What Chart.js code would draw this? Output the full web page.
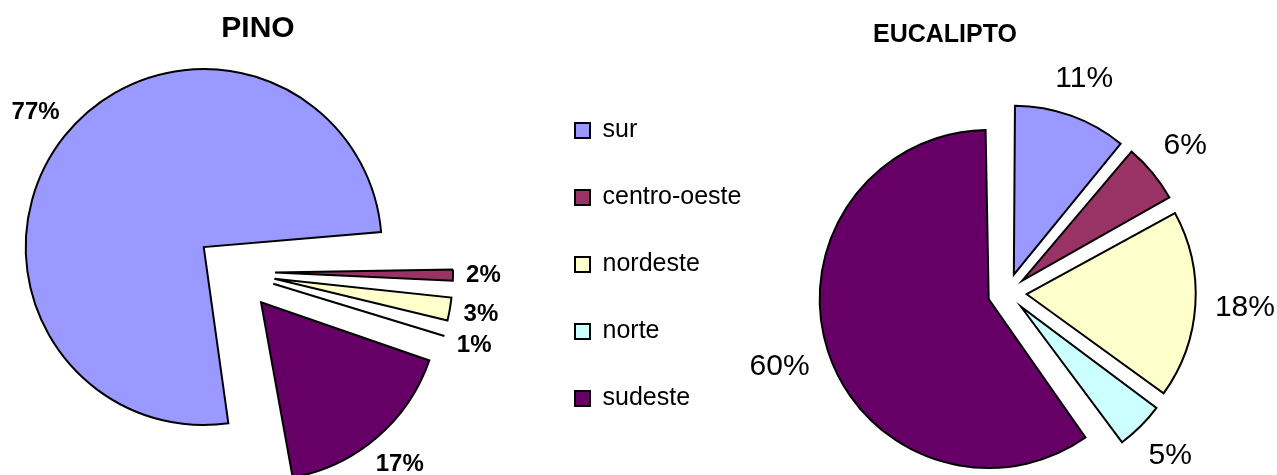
<!DOCTYPE html>
<html>
<head>
<meta charset="utf-8">
<title>Pino y Eucalipto por región</title>
<script src="https://cdn.jsdelivr.net/npm/chart.js@4.4.1/dist/chart.umd.min.js"></script>
<style>
  html, body { margin: 0; padding: 0; background: #fff; overflow: hidden; }
  body { width: 1277px; height: 475px; position: relative; }
  #pino { position: absolute; left: 0; top: 0; }
  #eucalipto { position: absolute; left: 533px; top: 0; }
</style>
</head>
<body>
<canvas id="pino" width="516" height="475"></canvas>
<canvas id="eucalipto" width="824" height="510"></canvas>
<script>
// ================================
// DATA
// ================================
var regiones = ["sur", "centro-oeste", "nordeste", "norte", "sudeste"];
var pino = [77, 2, 3, 1, 17];          // %
var eucalipto = [11, 6, 18, 5, 60];    // %
var colores = ["#9999FF", "#993366", "#FFFFCC", "#CCFFFF", "#660066"];

var fuente = '"Liberation Sans", Arial, sans-serif';

// ================================
// exploded slices: chart.js makes small slices grow when offset is used,
// take that back so every slice keeps the same radius (like excel)
// ================================
var arcDraw = Chart.ArcElement.prototype.draw;
Chart.ArcElement.prototype.draw = function (ctx) {
  var shift = (this.options.offset || 0) / 4;
  var fix = 1 - Math.sin(Math.min(Math.PI, this.circumference || 0));
  var r = this.outerRadius;
  this.outerRadius = r - shift * fix;
  arcDraw.call(this, ctx);
  this.outerRadius = r;
};

// ================================
// empty box in the layout, so the title is not centred over the pie
// ================================
function hueco(lado, ancho) {
  return {
    id: "hueco",
    beforeInit: function (chart) {
      Chart.layouts.addBox(chart, {
        position: lado,
        options: {},
        fullSize: false,
        isHorizontal: function () { return false; },
        update: function (maxWidth, maxHeight) {
          this.width = ancho;
          this.height = maxHeight;
        },
        draw: function () {}
      });
    }
  };
}

// ================================
// percent labels outside each slice
// ================================
var etiquetas = {
  id: "etiquetas",
  afterDatasetsDraw: function (chart, args, opts) {
    var ctx = chart.ctx;
    var valores = chart.data.datasets[0].data;
    var total = valores.reduce(function (a, b) { return a + b; }, 0);

    ctx.save();
    ctx.font = opts.font;
    ctx.fillStyle = "#000";
    ctx.textAlign = "center";
    ctx.textBaseline = "middle";

    chart.getDatasetMeta(0).data.forEach(function (arc, i) {
      var texto = Math.round(valores[i] / total * 100) + "%";
      var a = (arc.startAngle + arc.endAngle) / 2;
      var w = ctx.measureText(texto).width;
      // half size of the text box in the direction of the slice
      var ext = Math.abs(Math.cos(a)) * w / 2 + Math.abs(Math.sin(a)) * opts.size * 0.36;
      var dist = arc.outerRadius + (arc.options.offset || 0) / 4 + opts.gap + ext;
      ctx.fillText(texto, arc.x + Math.cos(a) * dist, arc.y + Math.sin(a) * dist);
    });

    ctx.restore();
  }
};

// ================================
// PINO
// ================================
new Chart(document.getElementById("pino"), {
  type: "pie",
  data: {
    labels: regiones,
    datasets: [{
      data: pino,
      backgroundColor: colores,
      borderColor: "#000",
      borderWidth: 2,
      borderJoinStyle: "miter",
      offset: 160,
      radius: 178,
      rotation: 170
    }]
  },
  options: {
    responsive: false,
    animation: false,
    events: [],
    plugins: {
      title: {
        display: true,
        text: "PINO",
        color: "#000",
        font: { family: fuente, size: 30, weight: "bold" },
        padding: { top: 11, bottom: 22 }
      },
      legend: { display: false },
      tooltip: { enabled: false },
      etiquetas: { font: "bold 24px " + fuente, size: 24, gap: 13 }
    }
  },
  plugins: [etiquetas, hueco("right", 46)]
});

// ================================
// EUCALIPTO (carries the shared legend)
// ================================
new Chart(document.getElementById("eucalipto"), {
  type: "pie",
  data: {
    labels: regiones,
    datasets: [{
      data: eucalipto,
      backgroundColor: colores,
      borderColor: "#000",
      borderWidth: 2,
      borderJoinStyle: "miter",
      offset: 78,
      radius: 169,
      rotation: 0
    }]
  },
  options: {
    responsive: false,
    animation: false,
    events: [],
    plugins: {
      title: {
        display: true,
        text: "EUCALIPTO",
        color: "#000",
        font: { family: fuente, size: 25, weight: "bold" },
        padding: { top: 20, bottom: 26 }
      },
      legend: {
        display: true,
        position: "left",
        align: "start",
        fullSize: false,
        maxWidth: 230,   // default limit cut the last letter of "centro-oeste"
        labels: {
          boxWidth: 15,
          boxHeight: 15,
          padding: 42,
          color: "#000",
          font: { family: fuente, size: 25 }
        }
      },
      tooltip: { enabled: false },
      etiquetas: { font: "30px " + fuente, size: 30, gap: 19 }
    }
  },
  plugins: [etiquetas, hueco("right", 94)]
});
</script>
</body>
</html>
